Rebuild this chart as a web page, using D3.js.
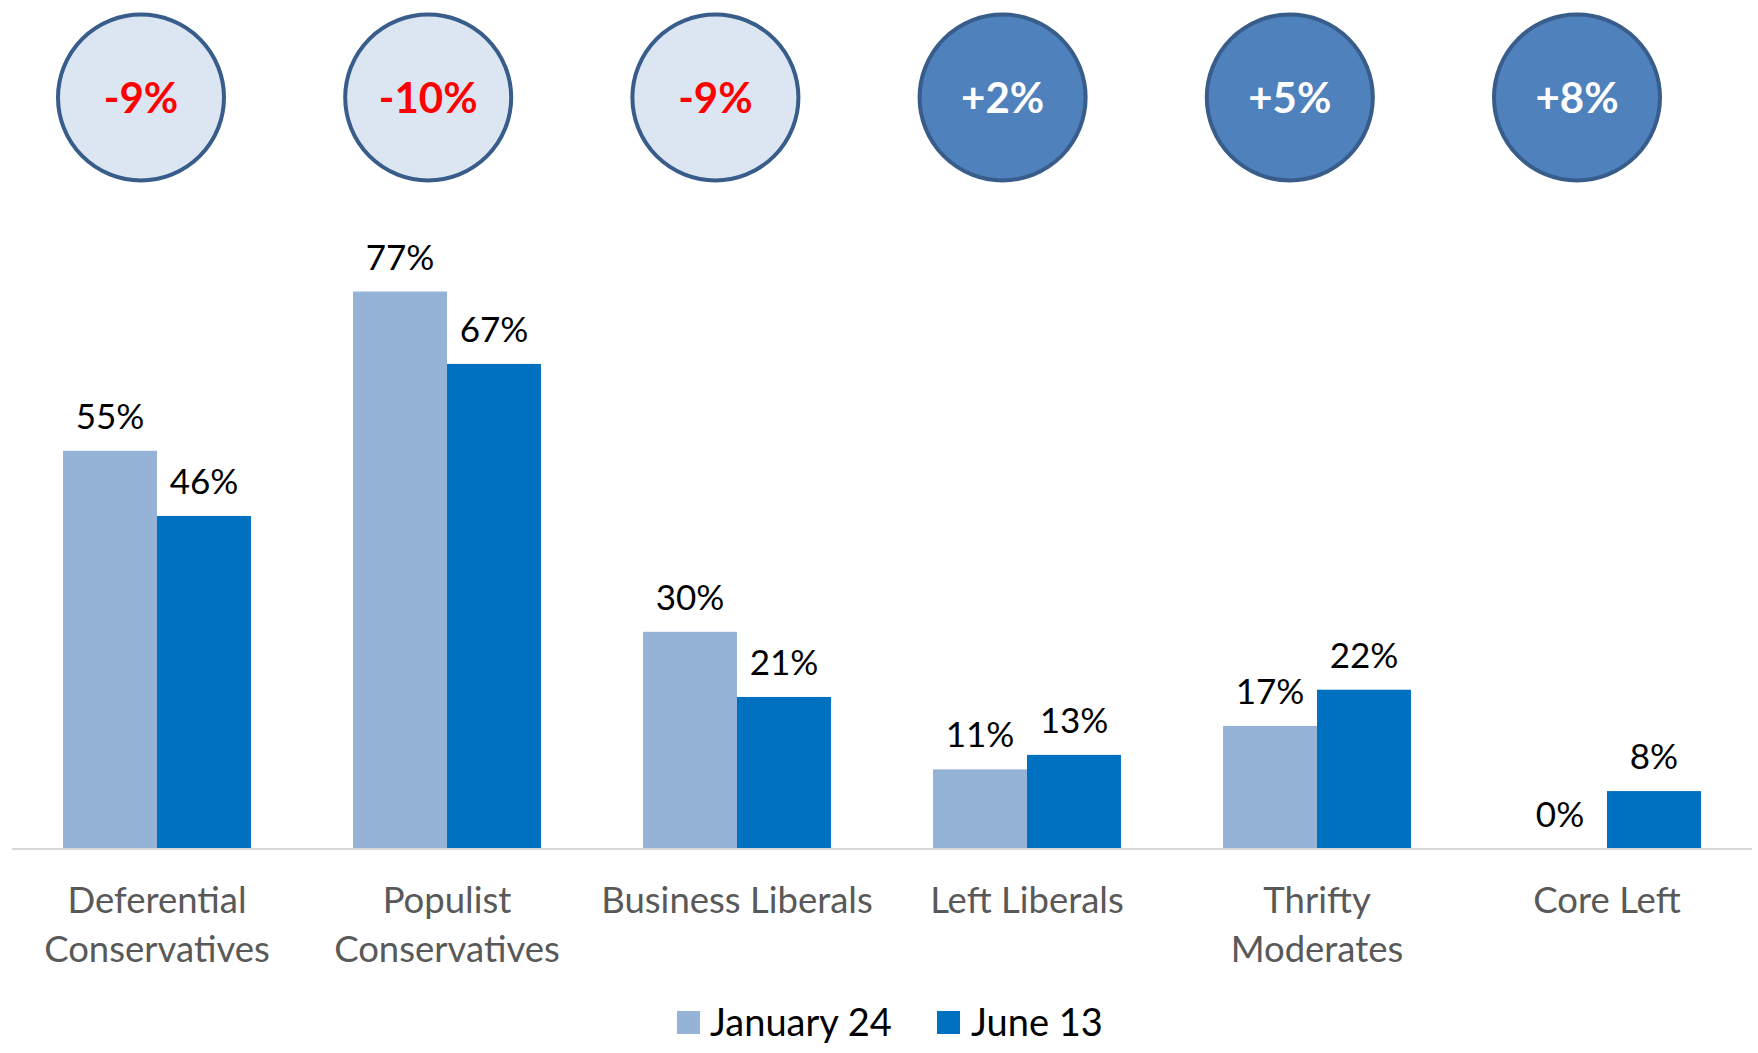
<!DOCTYPE html>
<html>
<head>
<meta charset="utf-8">
<script src="https://cdn.jsdelivr.net/npm/d3@7"></script>
<style>
  html, body { margin: 0; padding: 0; background: #fff; }
  svg { display: block; }
</style>
</head>
<body>
<svg id="chart" width="1758" height="1053"></svg>
<script>
// ---- Data ----
const categories = [
  ["Deferential", "Conservatives"],
  ["Populist", "Conservatives"],
  ["Business Liberals"],
  ["Left Liberals"],
  ["Thrifty", "Moderates"],
  ["Core Left"]
];
const categoryKeys = categories.map(c => c.join(" "));
const seriesNames = ["January 24", "June 13"];
const january24 = [55, 77, 30, 11, 17, 0];
const june13 = [46, 67, 21, 13, 22, 8];
const changeLabels = ["-9%", "-10%", "-9%", "+2%", "+5%", "+8%"];
const changeValues = [-9, -10, -9, 2, 5, 8];

// ---- Styles ----
const colors = { "January 24": "#95b3d7", "June 13": "#0070c0" };
const FONT = "Lato, 'Open Sans', sans-serif";

const svg = d3.select("#chart");

const baseY = 849;
const x0 = d3.scaleBand().domain(categoryKeys).range([12, 1752])
  .paddingInner(0.352).paddingOuter(0.176);
const x1 = d3.scaleBand().domain(seriesNames).range([0, x0.bandwidth()]).padding(0);
const y = d3.scaleLinear().domain([0, 100]).range([baseY, baseY - 724]);

const rows = categoryKeys.map((k, i) => ({
  key: k,
  values: [
    { series: "January 24", value: january24[i] },
    { series: "June 13", value: june13[i] }
  ]
}));

// Bars
const g = svg.append("g");
const groups = g.selectAll("g.grp").data(rows).join("g")
  .attr("class", "grp")
  .attr("transform", d => `translate(${x0(d.key)},0)`);

groups.selectAll("rect").data(d => d.values).join("rect")
  .attr("x", d => x1(d.series))
  .attr("width", x1.bandwidth())
  .attr("y", d => y(d.value))
  .attr("height", d => baseY - y(d.value))
  .attr("fill", d => colors[d.series]);

groups.selectAll("text.val").data(d => d.values).join("text")
  .attr("class", "val")
  .attr("x", d => x1(d.series) + x1.bandwidth() / 2)
  .attr("y", d => y(d.value) - 22)
  .attr("text-anchor", "middle")
  .attr("font-family", FONT)
  .attr("font-size", 35)
  .attr("fill", "#000")
  .text(d => d.value + "%");

// Axis line
const xAxis = d3.axisBottom(x0).tickSize(0).tickFormat("");
const ax = svg.append("g").attr("transform", `translate(0,${baseY})`).call(xAxis);
ax.select(".domain").attr("stroke", "#d9d9d9").attr("stroke-width", 2)
  .attr("d", `M12,0H1752`);

// Category labels
const catG = svg.append("g");
categories.forEach((lines, i) => {
  const cxp = x0(categoryKeys[i]) + x0.bandwidth() / 2;
  const t = catG.append("text")
    .attr("x", cxp)
    .attr("y", 913)
    .attr("text-anchor", "middle")
    .attr("font-family", FONT)
    .attr("font-size", 36.5)
    .attr("fill", "#595959");
  lines.forEach((ln, j) => {
    t.append("tspan")
      .attr("x", cxp)
      .attr("dy", j === 0 ? 0 : 49)
      .text(ln);
  });
});

// Change circles
const cx = d3.scalePoint().domain(categoryKeys).range([141, 1577]);
const circ = svg.append("g").selectAll("g").data(categoryKeys).join("g")
  .attr("transform", d => `translate(${cx(d)},97.5)`);
circ.append("circle")
  .attr("r", 83)
  .attr("fill", (d, i) => changeValues[i] < 0 ? "#dce6f2" : "#4f81bd")
  .attr("stroke", "#385d8a")
  .attr("stroke-width", 4);
circ.append("text")
  .attr("y", 15)
  .attr("text-anchor", "middle")
  .attr("font-family", FONT)
  .attr("font-weight", "bold")
  .attr("font-size", 42)
  .attr("fill", (d, i) => changeValues[i] < 0 ? "#ff0000" : "#ffffff")
  .text((d, i) => changeLabels[i]);

// Legend
const legendItems = [
  { name: "January 24", sx: 677, tx: 710 },
  { name: "June 13", sx: 937, tx: 971 }
];
const lg = svg.append("g");
lg.selectAll("rect").data(legendItems).join("rect")
  .attr("x", d => d.sx).attr("y", 1011)
  .attr("width", 23).attr("height", 23)
  .attr("fill", d => colors[d.name]);
lg.selectAll("text").data(legendItems).join("text")
  .attr("x", d => d.tx).attr("y", 1036)
  .attr("font-family", FONT)
  .attr("font-size", 38)
  .attr("fill", "#000")
  .text(d => d.name);
</script>
</body>
</html>
